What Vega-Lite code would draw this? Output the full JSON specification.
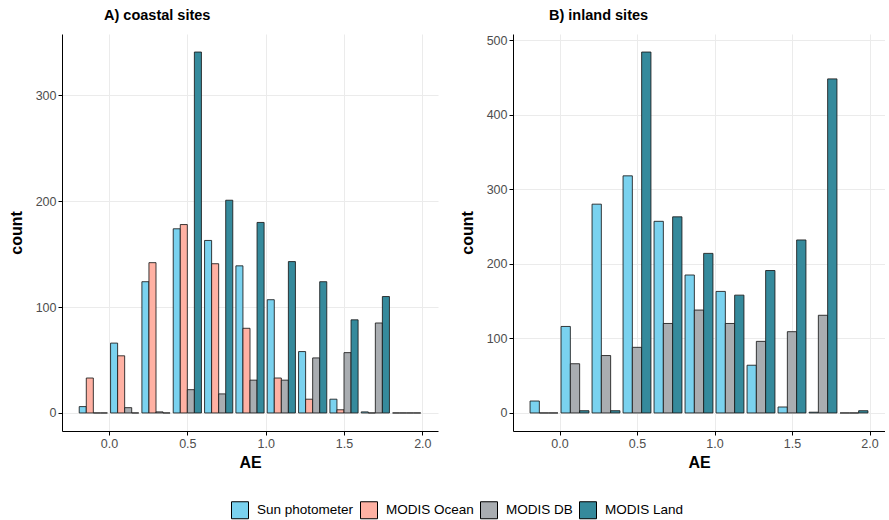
{
  "$schema": "https://vega.github.io/schema/vega-lite/v6.json",
  "padding": {"left": 8, "top": 7, "right": 0, "bottom": 0},
  "background": "white",
  "datasets": {
    "bars": [
      {"panel": "A", "bin_start": -0.2, "source": "Sun photometer", "count": 6},
      {"panel": "A", "bin_start": 0.0, "source": "Sun photometer", "count": 66},
      {"panel": "A", "bin_start": 0.2, "source": "Sun photometer", "count": 124},
      {"panel": "A", "bin_start": 0.4, "source": "Sun photometer", "count": 174},
      {"panel": "A", "bin_start": 0.6, "source": "Sun photometer", "count": 163},
      {"panel": "A", "bin_start": 0.8, "source": "Sun photometer", "count": 139},
      {"panel": "A", "bin_start": 1.0, "source": "Sun photometer", "count": 107},
      {"panel": "A", "bin_start": 1.2, "source": "Sun photometer", "count": 58},
      {"panel": "A", "bin_start": 1.4, "source": "Sun photometer", "count": 13},
      {"panel": "A", "bin_start": 1.6, "source": "Sun photometer", "count": 1},
      {"panel": "A", "bin_start": 1.8, "source": "Sun photometer", "count": 0},
      {"panel": "A", "bin_start": -0.2, "source": "MODIS Ocean", "count": 33},
      {"panel": "A", "bin_start": 0.0, "source": "MODIS Ocean", "count": 54},
      {"panel": "A", "bin_start": 0.2, "source": "MODIS Ocean", "count": 142},
      {"panel": "A", "bin_start": 0.4, "source": "MODIS Ocean", "count": 178},
      {"panel": "A", "bin_start": 0.6, "source": "MODIS Ocean", "count": 141},
      {"panel": "A", "bin_start": 0.8, "source": "MODIS Ocean", "count": 80},
      {"panel": "A", "bin_start": 1.0, "source": "MODIS Ocean", "count": 33},
      {"panel": "A", "bin_start": 1.2, "source": "MODIS Ocean", "count": 13},
      {"panel": "A", "bin_start": 1.4, "source": "MODIS Ocean", "count": 3},
      {"panel": "A", "bin_start": 1.6, "source": "MODIS Ocean", "count": 0},
      {"panel": "A", "bin_start": 1.8, "source": "MODIS Ocean", "count": 0},
      {"panel": "A", "bin_start": -0.2, "source": "MODIS DB", "count": 0},
      {"panel": "A", "bin_start": 0.0, "source": "MODIS DB", "count": 5},
      {"panel": "A", "bin_start": 0.2, "source": "MODIS DB", "count": 1},
      {"panel": "A", "bin_start": 0.4, "source": "MODIS DB", "count": 22},
      {"panel": "A", "bin_start": 0.6, "source": "MODIS DB", "count": 18},
      {"panel": "A", "bin_start": 0.8, "source": "MODIS DB", "count": 31},
      {"panel": "A", "bin_start": 1.0, "source": "MODIS DB", "count": 31},
      {"panel": "A", "bin_start": 1.2, "source": "MODIS DB", "count": 52},
      {"panel": "A", "bin_start": 1.4, "source": "MODIS DB", "count": 57},
      {"panel": "A", "bin_start": 1.6, "source": "MODIS DB", "count": 85},
      {"panel": "A", "bin_start": 1.8, "source": "MODIS DB", "count": 0},
      {"panel": "A", "bin_start": -0.2, "source": "MODIS Land", "count": 0},
      {"panel": "A", "bin_start": 0.0, "source": "MODIS Land", "count": 0},
      {"panel": "A", "bin_start": 0.2, "source": "MODIS Land", "count": 0},
      {"panel": "A", "bin_start": 0.4, "source": "MODIS Land", "count": 341},
      {"panel": "A", "bin_start": 0.6, "source": "MODIS Land", "count": 201},
      {"panel": "A", "bin_start": 0.8, "source": "MODIS Land", "count": 180},
      {"panel": "A", "bin_start": 1.0, "source": "MODIS Land", "count": 143},
      {"panel": "A", "bin_start": 1.2, "source": "MODIS Land", "count": 124},
      {"panel": "A", "bin_start": 1.4, "source": "MODIS Land", "count": 88},
      {"panel": "A", "bin_start": 1.6, "source": "MODIS Land", "count": 110},
      {"panel": "A", "bin_start": 1.8, "source": "MODIS Land", "count": 0},
      {"panel": "B", "bin_start": -0.2, "source": "Sun photometer", "count": 16},
      {"panel": "B", "bin_start": 0.0, "source": "Sun photometer", "count": 116},
      {"panel": "B", "bin_start": 0.2, "source": "Sun photometer", "count": 280},
      {"panel": "B", "bin_start": 0.4, "source": "Sun photometer", "count": 318},
      {"panel": "B", "bin_start": 0.6, "source": "Sun photometer", "count": 257},
      {"panel": "B", "bin_start": 0.8, "source": "Sun photometer", "count": 185},
      {"panel": "B", "bin_start": 1.0, "source": "Sun photometer", "count": 163},
      {"panel": "B", "bin_start": 1.2, "source": "Sun photometer", "count": 64},
      {"panel": "B", "bin_start": 1.4, "source": "Sun photometer", "count": 8},
      {"panel": "B", "bin_start": 1.6, "source": "Sun photometer", "count": 1},
      {"panel": "B", "bin_start": 1.8, "source": "Sun photometer", "count": 0},
      {"panel": "B", "bin_start": -0.2, "source": "MODIS DB", "count": 0},
      {"panel": "B", "bin_start": 0.0, "source": "MODIS DB", "count": 66},
      {"panel": "B", "bin_start": 0.2, "source": "MODIS DB", "count": 77},
      {"panel": "B", "bin_start": 0.4, "source": "MODIS DB", "count": 88},
      {"panel": "B", "bin_start": 0.6, "source": "MODIS DB", "count": 120},
      {"panel": "B", "bin_start": 0.8, "source": "MODIS DB", "count": 138},
      {"panel": "B", "bin_start": 1.0, "source": "MODIS DB", "count": 120},
      {"panel": "B", "bin_start": 1.2, "source": "MODIS DB", "count": 96},
      {"panel": "B", "bin_start": 1.4, "source": "MODIS DB", "count": 109},
      {"panel": "B", "bin_start": 1.6, "source": "MODIS DB", "count": 131},
      {"panel": "B", "bin_start": 1.8, "source": "MODIS DB", "count": 0},
      {"panel": "B", "bin_start": -0.2, "source": "MODIS Land", "count": 0},
      {"panel": "B", "bin_start": 0.0, "source": "MODIS Land", "count": 3},
      {"panel": "B", "bin_start": 0.2, "source": "MODIS Land", "count": 3},
      {"panel": "B", "bin_start": 0.4, "source": "MODIS Land", "count": 484},
      {"panel": "B", "bin_start": 0.6, "source": "MODIS Land", "count": 263},
      {"panel": "B", "bin_start": 0.8, "source": "MODIS Land", "count": 214},
      {"panel": "B", "bin_start": 1.0, "source": "MODIS Land", "count": 158},
      {"panel": "B", "bin_start": 1.2, "source": "MODIS Land", "count": 191},
      {"panel": "B", "bin_start": 1.4, "source": "MODIS Land", "count": 232},
      {"panel": "B", "bin_start": 1.6, "source": "MODIS Land", "count": 448},
      {"panel": "B", "bin_start": 1.8, "source": "MODIS Land", "count": 3}
    ]
  },
  "hconcat": [
    {
      "title": {"text": "A) coastal sites", "dx": 42},
      "width": 376,
      "height": 397,
      "data": {"name": "bars"},
      "transform": [{"filter": "datum.panel === 'A'"}],
      "layer": [
        {
          "mark": {"type": "point", "opacity": 0},
          "encoding": {
            "x": {"field": "bin_start", "type": "quantitative", "title": "AE",
                  "scale": {"domain": [-0.3, 2.1], "nice": false, "zero": false},
                  "axis": {"values": [0, 0.5, 1, 1.5, 2], "format": ".1f"}},
            "y": {"field": "count", "type": "quantitative", "title": "count",
                  "scale": {"domain": [-17.05, 358.05], "nice": false, "zero": false},
                  "axis": {"values": [0, 100, 200, 300]}}
          }
        },
        {
          "mark": {"type": "bar", "stroke": "#1a1a1a", "strokeWidth": 1, "strokeOpacity": 0.85},
          "encoding": {
            "x": {"field": "bin_start", "type": "ordinal", "sort": "ascending",
                  "scale": {"paddingInner": 0.1, "paddingOuter": 0.55}, "axis": null},
            "xOffset": {"field": "source", "type": "nominal",
                        "sort": ["Sun photometer", "MODIS Ocean", "MODIS DB", "MODIS Land"]},
            "y": {"field": "count", "type": "quantitative"},
            "color": {"field": "source", "type": "nominal", "title": null,
                      "scale": {"domain": ["Sun photometer", "MODIS Ocean", "MODIS DB", "MODIS Land"],
                                "range": ["#7ad2ef", "#ffb1a3", "#a9adb1", "#358a9c"]}}
          }
        }
      ],
      "resolve": {"scale": {"x": "independent"}}
    },
    {
      "title": {"text": "B) inland sites", "dx": 36},
      "width": 372,
      "height": 397,
      "data": {"name": "bars"},
      "transform": [{"filter": "datum.panel === 'B'"}],
      "layer": [
        {
          "mark": {"type": "point", "opacity": 0},
          "encoding": {
            "x": {"field": "bin_start", "type": "quantitative", "title": "AE",
                  "scale": {"domain": [-0.3, 2.1], "nice": false, "zero": false},
                  "axis": {"values": [0, 0.5, 1, 1.5, 2], "format": ".1f"}},
            "y": {"field": "count", "type": "quantitative", "title": "count",
                  "scale": {"domain": [-24.2, 508.2], "nice": false, "zero": false},
                  "axis": {"values": [0, 100, 200, 300, 400, 500]}}
          }
        },
        {
          "mark": {"type": "bar", "stroke": "#1a1a1a", "strokeWidth": 1, "strokeOpacity": 0.85},
          "encoding": {
            "x": {"field": "bin_start", "type": "ordinal", "sort": "ascending",
                  "scale": {"paddingInner": 0.1, "paddingOuter": 0.55}, "axis": null},
            "xOffset": {"field": "source", "type": "nominal",
                        "sort": ["Sun photometer", "MODIS DB", "MODIS Land"]},
            "y": {"field": "count", "type": "quantitative"},
            "color": {"field": "source", "type": "nominal", "title": null,
                      "scale": {"domain": ["Sun photometer", "MODIS Ocean", "MODIS DB", "MODIS Land"],
                                "range": ["#7ad2ef", "#ffb1a3", "#a9adb1", "#358a9c"]}}
          }
        }
      ],
      "resolve": {"scale": {"x": "independent"}}
    }
  ],
  "spacing": 21,
  "resolve": {"scale": {"color": "shared", "xOffset": "independent"}},
  "config": {
    "font": "Liberation Sans",
    "view": {"stroke": null},
    "title": {"anchor": "start", "frame": "group", "fontSize": 14.5, "fontWeight": "bold", "color": "black", "offset": 11},
    "axis": {
      "domainColor": "black", "domainWidth": 1, "tickColor": "black", "tickSize": 4,
      "labelFontSize": 12.5, "labelColor": "#4d4d4d", "labelPadding": 2,
      "titleFontSize": 16, "titleFontWeight": "bold", "titleColor": "black",
      "grid": true, "gridColor": "#ebebeb", "gridWidth": 1
    },
    "axisX": {"titlePadding": 5},
    "axisY": {"titlePadding": 11},
    "legend": {
      "orient": "none", "legendX": 169, "legendY": 467, "direction": "horizontal", "symbolType": "square",
      "symbolSize": 289, "symbolStrokeColor": "black", "symbolStrokeWidth": 1,
      "symbolOpacity": 1, "labelFontSize": 13.5, "labelColor": "black",
      "columnPadding": 4, "labelOffset": 8
    }
  }
}
